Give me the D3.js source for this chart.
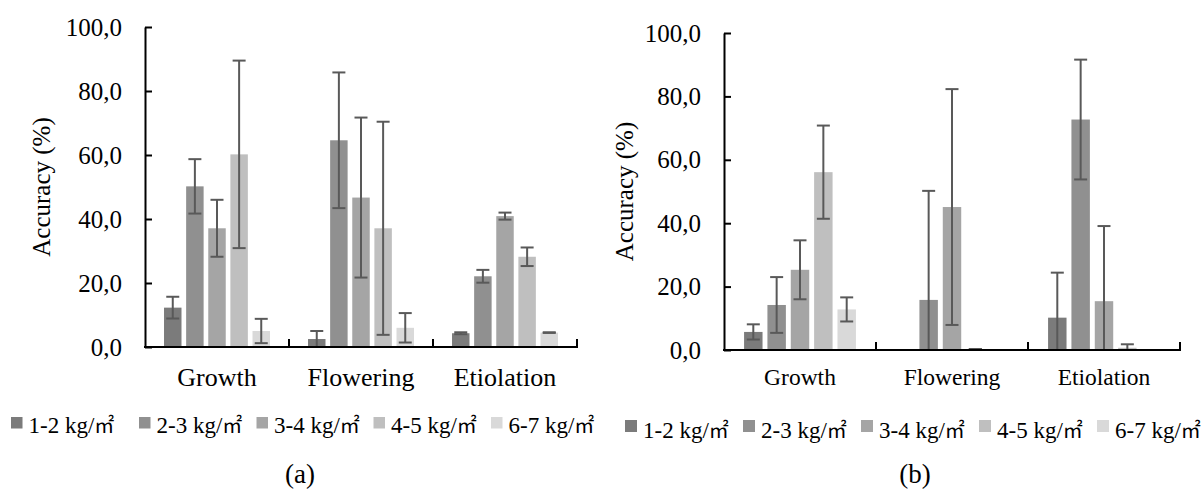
<!DOCTYPE html>
<html lang="en">
<head>
  <meta charset="UTF-8">
  <title>Accuracy by density</title>
  <script src="https://d3js.org/d3.v7.min.js"></script>
  <style>
    body {
      margin: 0;
      background-color: white;
    }
  </style>
</head>
<body>
  <svg id="chart" width="1203" height="491"></svg>

  <script>
    // Data
    const categories = ['Growth', 'Flowering', 'Etiolation'];
    const seriesNames = ['1-2 kg/㎡', '2-3 kg/㎡', '3-4 kg/㎡', '4-5 kg/㎡', '6-7 kg/㎡'];
    const yTicks = [0, 20, 40, 60, 80, 100];

    // panel (a): rows = categories, columns = series
    const valuesA = [
      [12.3, 50.2, 37.1, 60.2, 5.0],
      [2.5, 64.6, 46.7, 37.1, 6.0],
      [4.3, 22.1, 40.9, 28.2, 4.5]
    ];
    const errorsA = [
      [3.4, 8.5, 8.9, 29.3, 3.8],
      [2.5, 21.2, 25.0, 33.3, 4.6],
      [0.3, 2.0, 1.1, 2.9, 0.1]
    ];

    // panel (b)
    const valuesB = [
      [5.7, 14.2, 25.3, 56.1, 12.8],
      [0, 15.8, 45.1, 0.3, 0],
      [10.2, 72.7, 15.4, 0.7, 0]
    ];
    const errorsB = [
      [2.4, 8.8, 9.3, 14.7, 3.8],
      [0, 34.4, 37.2, 0, 0],
      [14.2, 18.9, 23.7, 1.1, 0]
    ];

    const colors = ['#7b7b7b', '#909090', '#a5a5a5', '#bfbfbf', '#d9d9d9'];
    const fontFam = 'Liberation Serif';

    const svg = d3.select('#chart');

    const panels = [
      {
        values: valuesA, errors: errorsA, tag: '(a)',
        left: 145, right: 577, top: 27, bottom: 347,
        tickFont: 25, catFont: 26, catY: 386, labelX: 41,
        legendX: [11, 139, 256.5, 373.5, 491], legendY: 417, legendBox: 11.5, legendTextY: 433,
        tagX: 300, tagY: 483
      },
      {
        values: valuesB, errors: errorsB, tag: '(b)',
        left: 724, right: 1180, top: 33, bottom: 350,
        tickFont: 25, catFont: 23.5, catY: 385, labelX: 624,
        legendX: [625, 743, 861, 979, 1097], legendY: 420, legendBox: 12, legendTextY: 438,
        tagX: 915, tagY: 483
      }
    ];

    panels.forEach(p => {
      const g = svg.append('g');

      const x0 = d3.scaleBand()
        .domain(categories)
        .range([p.left, p.right]);

      const x1 = d3.scaleBand()
        .domain(d3.range(seriesNames.length))
        .range([0, x0.bandwidth()])
        .paddingInner(0.21)
        .paddingOuter(0.86);

      const y = d3.scaleLinear()
        .domain([0, 100])
        .range([p.bottom, p.top]);

      // bars
      const groups = g.selectAll('.cat')
        .data(categories)
        .enter()
        .append('g')
        .attr('transform', d => `translate(${x0(d)},0)`);

      groups.selectAll('rect')
        .data((c, ci) => p.values[ci].map((v, si) => ({ v, si, e: p.errors[ci][si] })))
        .enter()
        .append('rect')
        .attr('x', d => x1(d.si))
        .attr('y', d => y(d.v))
        .attr('width', x1.bandwidth())
        .attr('height', d => y(0) - y(d.v))
        .attr('fill', d => colors[d.si]);

      // error bars (lower end clipped at the axis, as in the original)
      const cap = 13;
      const err = groups.selectAll('.err')
        .data((c, ci) => p.values[ci].map((v, si) => ({ v, si, e: p.errors[ci][si] })))
        .enter()
        .append('g')
        .attr('stroke', '#595959')
        .attr('stroke-width', 2)
        .attr('transform', d => `translate(${x1(d.si) + x1.bandwidth() / 2},0)`);

      err.append('line')
        .attr('y1', d => y(d.v + d.e))
        .attr('y2', d => y(Math.max(0, d.v - d.e)));

      err.append('line')
        .attr('x1', -cap / 2).attr('x2', cap / 2)
        .attr('y1', d => y(d.v + d.e))
        .attr('y2', d => y(d.v + d.e));

      err.filter(d => d.v - d.e > 0.2)
        .append('line')
        .attr('x1', -cap / 2).attr('x2', cap / 2)
        .attr('y1', d => y(d.v - d.e))
        .attr('y2', d => y(d.v - d.e));

      // y axis
      const yAxis = d3.axisLeft(y)
        .tickValues(yTicks)
        .tickSizeInner(-7)
        .tickSizeOuter(0)
        .tickPadding(23)
        .tickFormat(d => d3.format('.1f')(d).replace('.', ','));

      const ya = g.append('g')
        .attr('transform', `translate(${p.left},0)`)
        .call(yAxis)
        .attr('font-family', null)
        .attr('font-size', null);
      ya.select('.domain').attr('stroke', '#000').attr('stroke-width', 2);
      ya.selectAll('.tick line').attr('stroke', '#000').attr('stroke-width', 2);
      ya.selectAll('.tick text')
        .attr('fill', '#000')
        .attr('font-family', fontFam)
        .attr('font-size', p.tickFont);

      // x axis
      g.append('line')
        .attr('x1', p.left - 1).attr('x2', p.right + 1)
        .attr('y1', y(0)).attr('y2', y(0))
        .attr('stroke', '#000')
        .attr('stroke-width', 2);

      g.selectAll('.xtick')
        .data(categories)
        .enter()
        .append('line')
        .attr('x1', d => x0(d) + x0.bandwidth())
        .attr('x2', d => x0(d) + x0.bandwidth())
        .attr('y1', y(0))
        .attr('y2', y(0) - 8)
        .attr('stroke', '#000')
        .attr('stroke-width', 2);

      g.selectAll('.catlabel')
        .data(categories)
        .enter()
        .append('text')
        .attr('x', d => x0(d) + x0.bandwidth() / 2)
        .attr('y', p.catY)
        .attr('text-anchor', 'middle')
        .attr('font-family', fontFam)
        .attr('font-size', p.catFont)
        .text(d => d);

      // y label
      g.append('text')
        .attr('transform', `translate(${p.labelX},${(p.top + p.bottom) / 2}) rotate(-90)`)
        .attr('text-anchor', 'middle')
        .attr('dy', '0.35em')
        .attr('font-family', fontFam)
        .attr('font-size', 25)
        .text('Accuracy (%)');

      // legend
      const leg = g.selectAll('.leg')
        .data(seriesNames)
        .enter()
        .append('g')
        .attr('transform', (d, i) => `translate(${p.legendX[i]},0)`);

      leg.append('rect')
        .attr('y', p.legendY)
        .attr('width', p.legendBox)
        .attr('height', p.legendBox)
        .attr('fill', (d, i) => colors[i]);

      const lt = leg.append('text')
        .attr('x', p.legendBox + 6)
        .attr('y', p.legendTextY)
        .attr('font-family', fontFam)
        .attr('font-size', 23);
      lt.append('tspan').text(d => d.slice(0, -1));
      lt.append('tspan')
        .attr('font-family', 'Noto Sans CJK JP')
        .attr('font-size', 20)
        .text(d => d.slice(-1));

      // panel tag
      g.append('text')
        .attr('x', p.tagX)
        .attr('y', p.tagY)
        .attr('text-anchor', 'middle')
        .attr('font-family', fontFam)
        .attr('font-size', 27)
        .text(p.tag);
    });
  </script>
</body>
</html>
